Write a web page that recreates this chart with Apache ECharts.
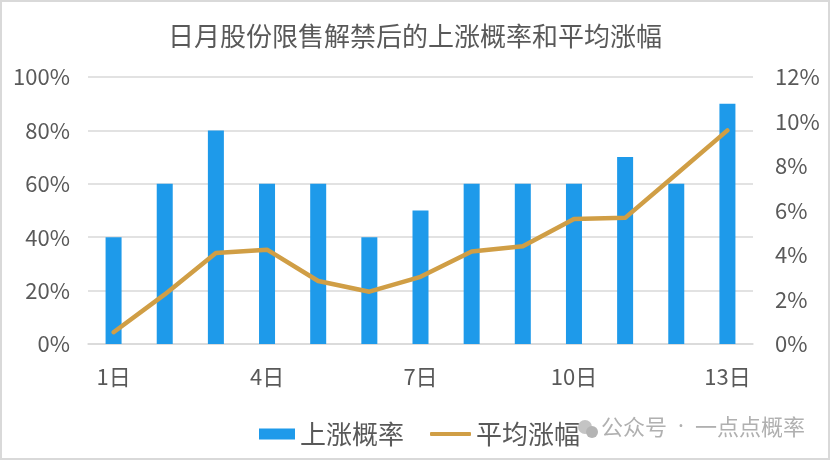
<!DOCTYPE html>
<html><head><meta charset="utf-8">
<script src="https://cdn.jsdelivr.net/npm/echarts@6/dist/echarts.min.js"></script>
<style>html,body{margin:0;padding:0;background:#fff}#c{width:830px;height:460px;box-sizing:border-box;border:2px solid #d9d9d9}</style>
</head><body><div id="c"></div>
<script>
const categories = ['1日','2日','3日','4日','5日','6日','7日','8日','9日','10日','11日','12日','13日'];
const riseProb = [40,60,80,60,60,40,50,60,60,60,70,60,90];
const avgRise = [0.53,2.23,4.09,4.24,2.83,2.35,3.02,4.16,4.39,5.62,5.67,7.63,9.6];
const leftTicks = [0,20,40,60,80,100];
const rightTicks = [0,2,4,6,8,10,12];

const chart = echarts.init(document.getElementById('c'));
const font = '"Noto Sans CJK SC", "Noto Sans", sans-serif';
const legendText = {fontSize:26,color:'#595959',fontFamily:font};
chart.setOption({
  animation:false,
  textStyle:{fontFamily:font},
  title:{text:'日月股份限售解禁后的上涨概率和平均涨幅',left:'center',top:16,
    textStyle:{fontSize:26,fontWeight:'normal',color:'#595959',fontFamily:font}},
  grid:{left:86,right:75,top:75,bottom:114},
  legend:[
    {left:252,top:414,itemWidth:36,itemHeight:11,itemGap:0,textStyle:legendText,
     data:[{name:'上涨概率',icon:'rect'}]},
    {left:423,top:414,itemWidth:41,itemHeight:4,itemGap:0,textStyle:legendText,
     data:[{name:'平均涨幅',icon:'roundRect'}]}
  ],
  xAxis:{type:'category',data:categories,
    axisLine:{show:true,lineStyle:{color:'#d9d9d9',width:1.5}},axisTick:{show:false},
    axisLabel:{interval:2,color:'#595959',fontSize:22,margin:22,fontFamily:font}},
  yAxis:[
    {type:'value',min:0,max:100,interval:20,position:'left',
     axisLabel:{formatter:'{value}%',color:'#595959',fontSize:22,margin:18,fontFamily:font},
     splitLine:{lineStyle:{color:'#d9d9d9',width:1.5}},axisLine:{show:false},axisTick:{show:false}},
    {type:'value',min:0,max:12,interval:2,position:'right',
     axisLabel:{formatter:'{value}%',color:'#595959',fontSize:22,margin:22,fontFamily:font},
     splitLine:{show:false},axisLine:{show:false},axisTick:{show:false}}
  ],
  series:[
    {name:'上涨概率',type:'bar',data:riseProb,barWidth:16,itemStyle:{color:'#1E9AEA'}},
    {name:'平均涨幅',type:'line',yAxisIndex:1,data:avgRise,symbol:'none',
     lineStyle:{color:'#D09E45',width:4.5,cap:'round',join:'round'},itemStyle:{color:'#D09E45'}}
  ],
  graphic:[
    {type:'circle',shape:{cx:583,cy:425,r:7},style:{fill:'#c4c4c4'}},
    {type:'circle',shape:{cx:590,cy:430,r:6},style:{fill:'#b4b4b4'}},
    {type:'text',left:599,top:414,style:{text:'{a|公众号}{b|\u2002·\u2002}{a|一点点概率}',
      rich:{a:{fill:'#b0b0b0',fontSize:22,fontFamily:font},b:{fill:'#b0b0b0',fontSize:22,fontFamily:'"Noto Sans", sans-serif'}},
      fill:'#b0b0b0',fontSize:22,fontFamily:font}}
  ]
});
</script></body></html>
